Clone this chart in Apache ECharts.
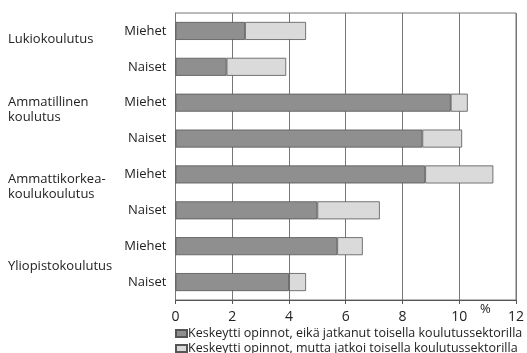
<!DOCTYPE html>
<html>
<head>
<meta charset="utf-8">
<script src="https://cdn.jsdelivr.net/npm/echarts@6/dist/echarts.min.js"></script>
<style>
  html, body { margin: 0; padding: 0; background: #fff; }
  #chart { width: 527px; height: 353px; }
</style>
</head>
<body>
<div id="chart"></div>
<script>
// rivit ylhäältä alas: koulutussektori + sukupuoli
const groups = ["Lukiokoulutus", "Ammatillinen\nkoulutus", "Ammattikorkea-\nkoulukoulutus", "Yliopistokoulutus"];
const sexes = ["Miehet", "Naiset"];
const rowIds = groups.flatMap((g, i) => sexes.map((s) => i + "|" + s));

// keskeytti, eikä jatkanut (%)
const notContinued = [2.45, 1.8, 9.7, 8.7, 8.8, 5.0, 5.7, 4.0];
// keskeytti, mutta jatkoi toisella sektorilla (%)
const continuedElsewhere = [2.15, 2.1, 0.6, 1.4, 2.4, 2.2, 0.9, 0.6];

const seriesNames = [
  "Keskeytti opinnot, eikä jatkanut toisella koulutussektorilla",
  "Keskeytti opinnot, mutta jatkoi toisella koulutussektorilla",
];
const xTicks = [0, 2, 4, 6, 8, 10, 12];

const font = "Open Sans";
const chart = echarts.init(document.getElementById("chart"));

// ryhmien otsikot vasemmalle
const groupLabelTops = [32, 95, 172, 259];

const option = {
  animation: false,
  textStyle: { fontFamily: font },
  grid: {
    left: 175.5,
    right: 7,
    top: 13,
    bottom: 53,
    show: true,
    borderColor: "#777",
    borderWidth: 1,
    containLabel: false,
  },
  legend: {
    orient: "vertical",
    left: 175,
    top: 327,
    height: 60,
    itemWidth: 11,
    itemHeight: 7,
    itemGap: 2,
    padding: 0,
    icon: "rect",
    textStyle: { fontFamily: font, fontSize: 12.5, color: "#222", padding: [0, 0, 0, -4] },
    data: seriesNames,
  },
  xAxis: {
    type: "value",
    min: xTicks[0],
    max: xTicks[xTicks.length - 1],
    interval: 2,
    axisLine: { show: true, lineStyle: { color: "#555" } },
    axisTick: { show: true, length: 4, lineStyle: { color: "#555" } },
    axisLabel: { fontFamily: font, fontSize: 14, color: "#222", margin: 10 },
    splitLine: { show: true, lineStyle: { color: "#777", width: 1 } },
  },
  yAxis: {
    type: "category",
    inverse: true,
    data: rowIds,
    axisLine: { show: true, lineStyle: { color: "#777" } },
    axisTick: { show: false },
    axisLabel: {
      fontFamily: font,
      fontSize: 13,
      color: "#222",
      margin: 9,
      formatter: (v) => v.split("|")[1],
    },
  },
  graphic: groups.map((g, i) => ({
    type: "text",
    left: 8,
    top: groupLabelTops[i],
    style: {
      text: g,
      font: "13px " + font,
      fill: "#222",
      lineHeight: 15,
    },
  })).concat([{
    type: "text",
    left: 480,
    top: 303,
    style: { text: "%", font: "13px " + font, fill: "#222" },
  }]),
  series: [
    {
      name: seriesNames[0],
      type: "bar",
      stack: "all",
      barWidth: 18,
      data: notContinued,
      itemStyle: { color: "#8f8f8f", borderColor: "#555", borderWidth: 0.8 },
    },
    {
      name: seriesNames[1],
      type: "bar",
      stack: "all",
      barWidth: 18,
      data: continuedElsewhere,
      itemStyle: { color: "#dadada", borderColor: "#555", borderWidth: 0.8 },
    },
  ],
};

chart.setOption(option);
</script>
</body>
</html>
